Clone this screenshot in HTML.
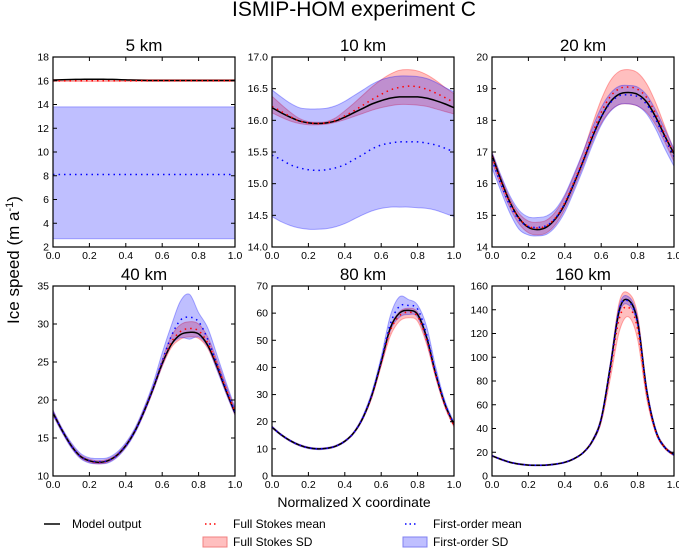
<!DOCTYPE html>
<html><head><meta charset="utf-8"><style>
body{margin:0;background:#fff;}
svg{display:block;font-family:"Liberation Sans","DejaVu Sans",sans-serif;}
</style></head><body>
<svg id="fig" width="679" height="549" viewBox="0 0 679 549">
<text x="354" y="16" font-size="21" text-anchor="middle">ISMIP-HOM experiment C</text>
<text transform="translate(19,260) rotate(-90)" font-size="17" text-anchor="middle">Ice speed (m a<tspan dy="-6" font-size="11">-1</tspan><tspan dy="6">)</tspan></text>
<text x="354" y="507" font-size="14" text-anchor="middle">Normalized X coordinate</text>
<g font-size="12">
<line x1="44" y1="524" x2="60" y2="524" stroke="#000" stroke-width="1.5"/>
<text x="72" y="528">Model output</text>
<line x1="205" y1="524" x2="217" y2="524" stroke="#f00" stroke-width="1.5" stroke-dasharray="1.5,3"/>
<text x="233" y="528">Full Stokes mean</text>
<rect x="203" y="537" width="24" height="10" fill="#ffbfbf" stroke="#f08080"/>
<text x="233" y="546">Full Stokes SD</text>
<line x1="405" y1="524" x2="417" y2="524" stroke="#00f" stroke-width="1.5" stroke-dasharray="1.5,3"/>
<text x="433" y="528">First-order mean</text>
<rect x="403" y="537" width="24" height="10" fill="#bfbfff" stroke="#8080f0"/>
<text x="433" y="546">First-order SD</text>
</g>
</svg>
<script>
const xs=[0,0.05,0.1,0.15,0.2,0.25,0.3,0.35,0.4,0.45,0.5,0.55,0.6,0.65,0.7,0.75,0.8,0.85,0.9,0.95,1];
const titles=["5 km","10 km","20 km","40 km","80 km","160 km"];
const yTicks=[[2,4,6,8,10,12,14,16,18],[14,14.5,15,15.5,16,16.5,17],[14,15,16,17,18,19,20],[10,15,20,25,30,35],[0,10,20,30,40,50,60,70],[0,20,40,60,80,100,120,140,160]];
const yTickLabels=[["2","4","6","8","10","12","14","16","18"],["14.0","14.5","15.0","15.5","16.0","16.5","17.0"],["14","15","16","17","18","19","20"],["10","15","20","25","30","35"],["0","10","20","30","40","50","60","70"],["0","20","40","60","80","100","120","140","160"]];
const xTicks=[0,0.2,0.4,0.6,0.8,1.0];
const xTickLabels=["0.0","0.2","0.4","0.6","0.8","1.0"];
const model=[
[16.05,16.08,16.1,16.12,16.13,16.13,16.12,16.1,16.07,16.05,16.03,16.02,16.02,16.02,16.02,16.02,16.02,16.02,16.02,16.02,16.03],
[16.2,16.12,16.05,15.99,15.96,15.95,15.96,15.99,16.05,16.12,16.19,16.26,16.31,16.35,16.37,16.37,16.37,16.35,16.31,16.26,16.2],
[16.9,16.1,15.4,14.9,14.62,14.55,14.63,14.9,15.35,16.0,16.7,17.45,18.1,18.58,18.83,18.88,18.82,18.58,18.1,17.5,16.95],
[18.3,16.0,14.0,12.6,12.0,11.8,12.0,12.7,14.0,15.9,18.5,21.5,24.8,27.3,28.6,28.9,28.7,27.2,24.5,21.3,18.3],
[18.0,15.2,13.0,11.4,10.4,10.0,10.2,11.0,12.8,16.0,21.5,30.0,42.0,54.5,60.0,61.0,59.5,51.0,37.5,26.5,19.0],
[17,14,11.5,10,9.2,9,9.2,10,11.5,14.5,19.5,29,48,92,140,148,130,72,38,24,18]];
const fsMean=[
[16,16,16,16,16,16,16,16,16,16,16,16,16,16,16,16,16,16,16,16,16],
[16.22,16.14,16.06,15.99,15.96,15.95,15.96,16.0,16.07,16.15,16.24,16.33,16.41,16.48,16.52,16.54,16.53,16.49,16.43,16.36,16.28],
[16.85,16.05,15.38,14.9,14.65,14.6,14.67,14.93,15.4,16.05,16.75,17.55,18.25,18.75,19.0,19.05,18.98,18.72,18.2,17.55,16.9],
[18.3,16.0,14.0,12.6,12.0,11.8,12.0,12.7,14.0,15.9,18.5,21.5,24.9,27.6,29.0,29.4,29.1,27.5,24.7,21.5,18.4],
[18.0,15.2,13.0,11.4,10.4,10.0,10.2,11.0,12.8,16.0,21.5,29.8,41.5,53.5,59.0,60.3,58.8,50.0,37.0,26.0,18.5],
[17,14,11.5,10,9.2,9,9.2,10,11.5,14.5,19.5,29,47,88,133,142,124,69,37,24,17.5]];
const fsLo=[
[15.95,15.95,15.95,15.95,15.95,15.95,15.95,15.95,15.95,15.95,15.95,15.95,15.95,15.95,15.95,15.95,15.95,15.95,15.95,15.95,15.95],
[16.12,16.05,15.99,15.95,15.93,15.93,15.94,15.97,16.01,16.06,16.11,16.16,16.2,16.23,16.25,16.25,16.24,16.22,16.18,16.14,16.1],
[16.7,15.9,15.22,14.72,14.45,14.38,14.45,14.72,15.2,15.85,16.55,17.3,17.9,18.3,18.5,18.52,18.45,18.25,17.85,17.3,16.7],
[18.0,15.8,13.8,12.4,11.8,11.6,11.8,12.5,13.8,15.7,18.2,21.2,24.4,26.9,28.0,28.3,28.1,26.8,24.1,21.0,18.0],
[17.7,15.0,12.8,11.2,10.2,9.8,10.0,10.8,12.6,15.7,21.0,29.0,40.5,51.5,57.0,58.3,57.0,48.5,36.0,25.3,18.0],
[16.5,13.6,11.2,9.7,8.9,8.7,8.9,9.7,11.2,14.1,19,28,45,82,122,134,115,65,36,23,17]];
const fsHi=[
[16.1,16.1,16.1,16.1,16.1,16.1,16.1,16.1,16.1,16.1,16.1,16.1,16.1,16.1,16.1,16.1,16.1,16.1,16.1,16.1,16.1],
[16.38,16.25,16.13,16.03,15.98,15.97,15.98,16.04,16.15,16.27,16.4,16.53,16.64,16.73,16.79,16.8,16.78,16.72,16.63,16.52,16.42],
[17.0,16.2,15.52,15.05,14.82,14.78,14.85,15.12,15.6,16.25,16.98,17.85,18.65,19.25,19.55,19.6,19.5,19.15,18.55,17.8,17.05],
[18.6,16.2,14.2,12.8,12.2,12.0,12.2,12.9,14.2,16.1,18.8,21.8,25.3,28.4,29.9,30.3,30.0,28.3,25.3,22.0,18.8],
[18.3,15.4,13.2,11.6,10.6,10.2,10.4,11.2,13.0,16.3,22.0,30.6,42.5,55.0,60.5,61.8,60.3,51.5,38.0,26.7,19.0],
[17.5,14.4,11.8,10.3,9.5,9.3,9.5,10.3,11.8,14.9,20,30,50,95,147,154,136,75,39,25,18.5]];
const foMean=[
[8.1,8.1,8.1,8.1,8.1,8.1,8.1,8.1,8.1,8.1,8.1,8.1,8.1,8.1,8.1,8.1,8.1,8.1,8.1,8.1,8.1],
[15.45,15.38,15.3,15.25,15.22,15.21,15.22,15.25,15.3,15.38,15.46,15.55,15.61,15.64,15.66,15.66,15.66,15.64,15.61,15.56,15.5],
[16.75,15.98,15.3,14.85,14.65,14.62,14.68,14.92,15.38,16.02,16.7,17.45,18.1,18.55,18.78,18.8,18.75,18.5,18.02,17.42,16.85],
[18.3,16.0,14.0,12.6,12.0,11.9,12.0,12.7,14.0,15.9,18.5,21.6,25.1,28.4,30.5,30.9,30.3,28.0,24.8,21.5,18.4],
[18.0,15.2,13.0,11.4,10.4,10.0,10.2,11.0,12.8,16.0,21.6,30.3,42.5,56.0,62.5,62.8,61.5,52.0,38.0,26.8,19.2],
[17,14,11.5,10,9.2,9,9.2,10,11.5,14.5,19.5,29,48,92,141,147,129,72,38,24,18]];
const foLo=[
[2.7,2.7,2.7,2.7,2.7,2.7,2.7,2.7,2.7,2.7,2.7,2.7,2.7,2.7,2.7,2.7,2.7,2.7,2.7,2.7,2.7],
[14.48,14.4,14.34,14.3,14.28,14.28,14.29,14.32,14.37,14.44,14.51,14.57,14.61,14.63,14.63,14.63,14.62,14.61,14.58,14.53,14.48],
[16.5,15.75,15.05,14.55,14.38,14.35,14.4,14.65,15.1,15.75,16.45,17.2,17.85,18.28,18.5,18.52,18.45,18.2,17.72,17.1,16.55],
[18.0,15.7,13.7,12.3,11.7,11.6,11.7,12.4,13.7,15.6,18.2,21.2,24.5,27.2,28.2,28.0,28.3,27.0,24.0,20.9,18.0],
[17.6,14.9,12.7,11.1,10.1,9.7,9.9,10.7,12.5,15.6,21.0,29.4,41.2,53.5,58.5,59.5,58.5,49.5,36.5,25.8,18.5],
[16.5,13.5,11,9.5,8.7,8.5,8.7,9.5,11,14,19,28,46,89,137,144,126,69,36,23,17]];
const foHi=[
[13.8,13.8,13.8,13.8,13.8,13.8,13.8,13.8,13.8,13.8,13.8,13.8,13.8,13.8,13.8,13.8,13.8,13.8,13.8,13.8,13.8],
[16.48,16.37,16.27,16.2,16.18,16.18,16.19,16.23,16.3,16.39,16.48,16.57,16.64,16.68,16.7,16.7,16.69,16.66,16.6,16.52,16.45],
[17.0,16.25,15.6,15.15,14.95,14.93,14.98,15.2,15.65,16.3,17.0,17.75,18.4,18.85,19.08,19.1,19.05,18.8,18.32,17.72,17.1],
[18.7,16.3,14.4,13.0,12.4,12.3,12.4,13.1,14.4,16.3,19.0,22.2,26.2,29.8,33.0,33.9,31.5,29.5,26.0,22.4,19.0],
[18.4,15.5,13.3,11.7,10.7,10.3,10.5,11.3,13.1,16.4,22.3,31.3,44.0,59.0,66.0,65.0,63.0,55.0,40.0,27.8,19.8],
[17.5,14.5,12,10.5,9.7,9.5,9.7,10.5,12,15,20,30,50,95,144,151,133,75,40,25,19]];

const NS="http://www.w3.org/2000/svg";
const fig=document.getElementById('fig');
const lefts=[53,272,492];
const tops=[57,286];
const W=182,H=190;
function mk(tag,attrs,parent){const e=document.createElementNS(NS,tag);for(const k in attrs)e.setAttribute(k,attrs[k]);parent.appendChild(e);return e;}
function spline(pts){let d="M"+pts[0][0].toFixed(2)+","+pts[0][1].toFixed(2);
 for(let i=0;i<pts.length-1;i++){const p0=pts[Math.max(0,i-1)],p1=pts[i],p2=pts[i+1],p3=pts[Math.min(pts.length-1,i+2)];
  const c1=[p1[0]+(p2[0]-p0[0])/6,p1[1]+(p2[1]-p0[1])/6],c2=[p2[0]-(p3[0]-p1[0])/6,p2[1]-(p3[1]-p1[1])/6];
  d+="C"+c1[0].toFixed(2)+","+c1[1].toFixed(2)+" "+c2[0].toFixed(2)+","+c2[1].toFixed(2)+" "+p2[0].toFixed(2)+","+p2[1].toFixed(2);}
 return d;}
for(let p=0;p<6;p++){
 const L=lefts[p%3],T=tops[Math.floor(p/3)];
 const yt=yTicks[p],y0=yt[0],y1=yt[yt.length-1];
 const sx=v=>L+v*W, sy=v=>T+H-(v-y0)/(y1-y0)*H;
 const g=mk('g',{},fig);
 
 
 const cid='clip'+p;
 const cp=mk('clipPath',{id:cid},g);mk('rect',{x:L,y:T,width:W,height:H},cp);
 const dg=mk('g',{'clip-path':'url(#'+cid+')'},g);
 const band=(lo,hi,fill,stroke,name)=>{
  const up=xs.map((x,i)=>[sx(x),sy(hi[p][i])]);
  const dn=xs.map((x,i)=>[sx(x),sy(lo[p][i])]).reverse();
  const d=spline(up)+"L"+spline(dn).slice(1)+"Z";
  const e=mk('path',{d:d,fill:fill,stroke:stroke,'stroke-width':1},dg);
  
  };
 band(fsLo,fsHi,'rgba(255,0,0,0.25)','rgba(255,0,0,0.3)','fs-sd-band');
 band(foLo,foHi,'rgba(0,0,255,0.25)','rgba(0,0,255,0.3)','fo-sd-band');
 const line=(arr,stroke,dash,name)=>{
  const d=spline(xs.map((x,i)=>[sx(x),sy(arr[p][i])]));
  const e=mk('path',{d:d,fill:'none',stroke:stroke,'stroke-width':1.5},dg);
  if(dash)e.setAttribute('stroke-dasharray',dash);
  
  };
 line(model,'#000',null,'model-output-line');
 line(fsMean,'#f00','1.5,4','fs-mean-line');
 line(foMean,'#00f','1.5,4','fo-mean-line');
 mk('rect',{x:L,y:T,width:W,height:H,fill:'none',stroke:'#000','stroke-width':1.2},g);
 const tt=mk('text',{x:L+W/2,y:T-6,'font-size':17,'text-anchor':'middle'},g);tt.textContent=titles[p];
 
 
 yt.forEach((v,i)=>{const y=sy(v);
  mk('line',{x1:L,x2:L+4,y1:y,y2:y,stroke:'#000'},g);mk('line',{x1:L+W-4,x2:L+W,y1:y,y2:y,stroke:'#000'},g);
  const t=mk('text',{x:L-4,y:y+3.5,'font-size':10.5,'text-anchor':'end'},g);t.textContent=yTickLabels[p][i];
  
  });
 xTicks.forEach((v,i)=>{const x=sx(v);
  mk('line',{x1:x,x2:x,y1:T+H,y2:T+H-4,stroke:'#000'},g);mk('line',{x1:x,x2:x,y1:T,y2:T+4,stroke:'#000'},g);
  const t=mk('text',{x:x,y:T+H+12,'font-size':10.5,'text-anchor':'middle'},g);t.textContent=xTickLabels[i];
  
  });
}
</script>
</body></html>
